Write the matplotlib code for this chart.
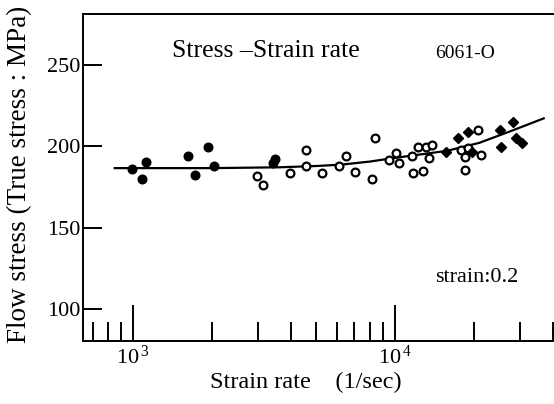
import math
import matplotlib
matplotlib.use("Agg")
import matplotlib.pyplot as plt
from matplotlib.ticker import LogLocator, NullFormatter, FixedLocator, FuncFormatter

plt.rcParams['font.family'] = ['Liberation Serif', 'DejaVu Serif']
plt.rcParams['mathtext.fontset'] = 'custom'
plt.rcParams['mathtext.rm'] = 'Liberation Serif'

# solid circles
fc_rate = [986, 1118, 1083, 1622, 1717, 1924, 2041, 3479, 3429]
fc_stress = [185.8, 190.1, 179.7, 193.9, 182.1, 199.6, 187.6, 192.1, 189.8]

# open circles
oc_rate = [2978, 3139, 3973, 4585, 4585, 5275, 6107, 6480, 7050, 8168, 8388,
           9487, 10080, 10380, 11640, 11750, 12280, 12830, 13130, 13490, 13880,
           17810, 18500, 18500, 18950, 20700, 21310]
oc_stress = [181.9, 176.0, 183.7, 197.7, 188.0, 183.7, 188.0, 193.9, 184.0, 179.9, 205.1,
             191.6, 195.7, 189.8, 193.9, 183.4, 199.6, 185.0, 199.6, 192.7, 200.6,
             197.6, 193.1, 185.5, 198.6, 209.8, 194.7]

# solid diamonds
fd_rate = [15660, 17380, 18970, 19640, 25190, 25310, 28190, 29000, 30470]
fd_stress = [196.5, 205.1, 208.7, 196.5, 209.8, 199.6, 214.5, 205.1, 202.0]

# fitted curve
fit_rate = [850, 2000, 3600, 5000, 6200, 8000, 10000, 12000, 15800, 21000, 28000, 37000]
fit_stress = [186.5, 186.5, 187.0, 187.8, 188.6, 190.5, 192.8, 194.5, 197.1, 202.0, 209.5, 217.0]

W, H = 554, 404
fig = plt.figure(figsize=(W / 100, H / 100), dpi=100)
ax = fig.add_axes([83 / W, (H - 341) / H, (W - 83) / W, (341 - 14) / H])

ax.plot(fit_rate, fit_stress, color="black", lw=1.6, zorder=2)
ax.plot(fc_rate, fc_stress, "o", color="black", ms=6.2, zorder=3)
ax.plot(oc_rate, oc_stress, "o", mfc="white", mec="black", mew=1.6, ms=5.6, zorder=3)
ax.plot(fd_rate, fd_stress, "D", color="black", ms=5.0, zorder=3)

ax.set_xscale("log")
ax.set_xlim(643, 40500)
ax.set_ylim(80.5, 281)

ax.xaxis.set_major_locator(FixedLocator([1e3, 1e4]))
ax.xaxis.set_minor_locator(LogLocator(base=10, subs=range(2, 10), numticks=20))
ax.xaxis.set_minor_formatter(NullFormatter())
ax.xaxis.set_major_formatter(FuncFormatter(
    lambda v, p: r"$\mathregular{10^{\,%d}}$" % round(math.log10(v))))
ax.set_yticks([100, 150, 200, 250])

ax.tick_params(axis="x", which="major", direction="in", length=26, width=1.4,
               labelsize=16, pad=3, top=False)
ax.tick_params(axis="x", which="minor", direction="in", length=14, width=1.4, top=False)
ax.tick_params(axis="y", which="major", direction="in", length=14, width=1.4,
               labelsize=16, pad=2, right=False)
ax.yaxis.set_minor_locator(FixedLocator([]))

for s in ["left", "bottom", "top"]:
    ax.spines[s].set_linewidth(1.4)
ax.spines["right"].set_visible(False)

fig.text(20 / W, 1 - 174 / H, "Flow stress (True stress : MPa)", rotation=90,
         ha="center", va="center", fontsize=19.5)
fig.text(306 / W, 1 - 382 / H, "Strain rate    (1/sec)", ha="center", va="center",
         fontsize=17.5)
fig.text(172 / W, 1 - 51 / H, "Stress \u2013Strain rate", ha="left", va="center",
         fontsize=18.5)
fig.text(435 / W, 1 - 54 / H, "6061-O", ha="left", va="center", fontsize=14)
fig.text(435 / W, 1 - 278 / H, "strain:0.2", ha="left", va="center", fontsize=16)

fig.savefig("out.png", dpi=100)
